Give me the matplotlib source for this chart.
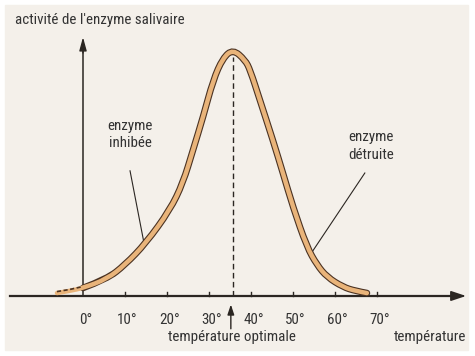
import matplotlib.pyplot as plt
from matplotlib import font_manager
from matplotlib.patches import Rectangle, PathPatch
from matplotlib.path import Path

installed = {f.name for f in font_manager.fontManager.ttflist}
narrow = [n for n in ['Liberation Sans Narrow', 'Roboto Condensed', 'DejaVu Sans Condensed'] if n in installed]
plt.rcParams['font.family'] = narrow + ['DejaVu Sans']
fs = 10.8 if narrow else 9.0

# courbe (température en °C, activité en % du maximum)
temps = [-6.2, -3.1, 0, 5.7, 10.0, 15.0, 20.7, 23.8, 26.2, 28.6, 31.0, 33.3, 35.7,
         38.6, 39.8, 42.1, 45.2, 47.6, 50.0, 53.3, 55.7, 58.1, 61.9, 64.8, 67.6]
activite = [1.2, 2.1, 3.3, 7.0, 12.8, 21.8, 35.4, 46.5, 60.1, 73.7, 88.9, 97.9, 101.5,
            97.1, 93.0, 80.7, 64.2, 50.6, 36.6, 20.2, 12.8, 7.8, 3.7, 2.1, 1.2]
ticks = [0, 10, 20, 30, 40, 50, 60, 70]
tick_labels = ['0°', '10°', '20°', '30°', '40°', '50°', '60°', '70°']
t_opt = 35.7


def smooth_path(xs, ys):
    # courbe lissée : les points lus servent de points de contrôle
    verts = [(xs[0], ys[0])]
    codes = [Path.MOVETO]
    for i in range(1, len(xs) - 1):
        nx = xs[i + 1] if i == len(xs) - 2 else (xs[i] + xs[i + 1]) / 2
        ny = ys[i + 1] if i == len(xs) - 2 else (ys[i] + ys[i + 1]) / 2
        verts += [(xs[i], ys[i]), (nx, ny)]
        codes += [Path.CURVE3, Path.CURVE3]
    return Path(verts, codes)


ink = '#2b2622'
fig = plt.figure(figsize=(4.75, 3.56), dpi=100, facecolor='white')
fig.patches.append(Rectangle((5 / 475, 6 / 356), 463 / 475, 345 / 356,
                             transform=fig.transFigure, color='#f4f0ea', zorder=-5))
ax = fig.add_axes([0, 0, 1, 1], zorder=2)
ax.set_facecolor('none')
ax.set_xlim(-19.76, 93.33)
ax.set_ylim(-24.7, 121.8)
ax.axis('off')

no_shrink = dict(shrinkA=0, shrinkB=0)
# axes avec flèches
ax.plot([-17.4, 89], [0, 0], color=ink, lw=1.6, zorder=3)
ax.annotate('', xy=(91.2, 0), xytext=(87, 0),
            arrowprops=dict(arrowstyle='-|>,head_length=0.9,head_width=0.3', color=ink, lw=1.2, **no_shrink))
ax.plot([0, 0], [0, 104], color=ink, lw=1.1, zorder=3)
ax.annotate('', xy=(0, 106.5), xytext=(0, 100),
            arrowprops=dict(arrowstyle='-|>,head_length=0.8,head_width=0.22', color=ink, lw=1.0, **no_shrink))

for t, lab in zip(ticks, tick_labels):
    if t > 0:
        ax.plot([t, t], [0, 1.5], color=ink, lw=1.0)
    ax.text(t + 0.6, -10, lab, ha='center', va='center', fontsize=fs, color='#333')

# courbe
pos = [i for i, t in enumerate(temps) if t >= 0]
neg = [i for i, t in enumerate(temps) if t <= 0]
ax.add_patch(PathPatch(smooth_path([temps[i] for i in pos], [activite[i] for i in pos]),
                       fill=False, edgecolor='#4a3222', lw=4.8, capstyle='round', zorder=4))
ax.add_patch(PathPatch(smooth_path(temps, activite), fill=False, edgecolor='#e9b47a',
                       lw=3.2, capstyle='round', zorder=5))
ax.plot([temps[i] for i in neg], [activite[i] + 0.6 for i in neg], color='#4a3222',
        lw=1.2, ls=(0, (2.5, 1.5)), zorder=6)

# température optimale
ax.plot([t_opt, t_opt], [0, 98.5], color=ink, lw=1.0, ls=(0, (4, 2.5)), zorder=3)
ax.annotate('', xy=(t_opt - 0.5, -3.5), xytext=(t_opt - 0.5, -13.5),
            arrowprops=dict(arrowstyle='-|>,head_length=0.6,head_width=0.2', color=ink, lw=1.0, **no_shrink))
ax.text(t_opt - 0.3, -16.7, 'température optimale', ha='center', va='center', fontsize=fs, color='#333')
ax.text(82.6, -16.7, 'température', ha='center', va='center', fontsize=fs, color='#333')

ax.text(-16.2, 113.6, "activité de l'enzyme salivaire", ha='left', va='center', fontsize=fs, color='#333')

ax.text(11.2, 66.5, 'enzyme\ninhibée', ha='center', va='center', fontsize=fs,
        color='#333', linespacing=1.3)
ax.plot([11.2, 14.5], [51.5, 22], color=ink, lw=0.8)
ax.text(68.6, 61.7, 'enzyme\ndétruite', ha='center', va='center', fontsize=fs,
        color='#333', linespacing=1.3)
ax.plot([67.1, 54.5], [50.6, 18], color=ink, lw=0.8)

fig.savefig('out.png', dpi=100, facecolor='white')
